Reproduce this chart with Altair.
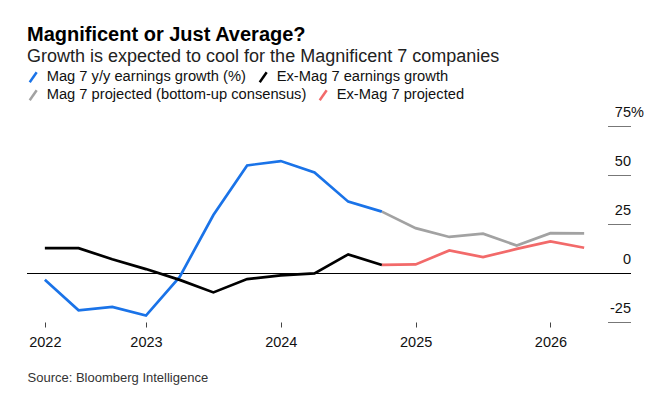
import altair as alt
import pandas as pd

# ---- data (quarter index 0 = first quarter shown) ----
actual_names = ["Mag 7 y/y earnings growth (%)", "Ex-Mag 7 earnings growth"]
actual_colors = ["#1a73e8", "#000000"]
projected_names = ["Mag 7 projected (bottom-up consensus)", "Ex-Mag 7 projected"]
projected_colors = ["#a2a2a2", "#f26a6a"]

mag7_actual = [-3.5, -19.0, -17.3, -21.7, -2.0, 29.6, 54.9, 57.1, 51.3, 36.4, 31.3]
exmag7_actual = [12.7, 12.7, 7.0, 2.0, -3.5, -9.9, -3.1, -1.2, -0.2, 9.5, 4.1]
mag7_projected = [31.3, 22.9, 18.4, 20.1, 14.0, 20.3, 20.2]
exmag7_projected = [4.1, 4.4, 11.5, 8.1, 12.3, 16.1, 12.9]
actual_start = 0
projected_start = 10

year_ticks = [0, 3, 7, 11, 15]
year_labels = ["2022", "2023", "2024", "2025", "2026"]

y_ticks = [75, 50, 25, 0, -25]
y_labels = ["75", "50", "25", "0", "-25"]


def long_table(names, start, series):
    rows = []
    for name, vals in zip(names, series):
        for i, v in enumerate(vals):
            rows.append({"series": name, "q": start + i, "value": v})
    return pd.DataFrame(rows)


df_actual = long_table(actual_names, actual_start, [mag7_actual, exmag7_actual])
df_proj = long_table(projected_names, projected_start, [mag7_projected, exmag7_projected])

FONT = "Liberation Sans"

label_expr = " : ".join(
    f"datum.value == {t} ? '{l}'" for t, l in zip(year_ticks, year_labels)
) + " : ''"

x_scale = alt.Scale(domain=[-0.53, 17.39], nice=False, zero=False)
y_scale = alt.Scale(domain=[-25, 75], nice=False, zero=False)

x_axis = alt.Axis(
    values=year_ticks,
    labelExpr=label_expr,
    grid=False,
    domain=False,
    ticks=True,
    tickSize=5,
    tickColor="#444",
    labelFontSize=14.5,
    labelFont=FONT,
    labelColor="#111",
    labelPadding=8,
    title="Source: Bloomberg Intelligence",
    titleAnchor="start",
    titleAlign="left",
    titleX=0,
    titleY=59,
    titleBaseline="alphabetic",
    titleFont=FONT,
    titleFontSize=13,
    titleFontWeight="normal",
    titleColor="#333",
)
x_enc = alt.X("q:Q", scale=x_scale, axis=x_axis)
y_enc = alt.Y("value:Q", scale=y_scale, axis=None)


def legend(y):
    return alt.Legend(
        orient="none",
        legendX=-1.3,
        legendY=y,
        direction="horizontal",
        title=None,
        symbolType="M-0.58,0.83L0.58,-0.83",
        symbolSize=144,
        symbolStrokeWidth=2.5,
        labelFontSize=14.7,
        labelFont=FONT,
        labelColor="#111",
        labelOffset=6,
        labelLimit=500,
        columnPadding=8,
    )


actual_lines = alt.Chart(df_actual).mark_line(strokeWidth=2.7, clip=False).encode(
    x=x_enc,
    y=y_enc,
    color=alt.Color(
        "series:N",
        scale=alt.Scale(domain=actual_names, range=actual_colors),
        legend=legend(-56.5),
    ),
    order="q:Q",
)

projected_lines = alt.Chart(df_proj).mark_line(strokeWidth=2.7, clip=False).encode(
    x=x_enc,
    y=y_enc,
    stroke=alt.Stroke(
        "series:N",
        scale=alt.Scale(domain=projected_names, range=projected_colors),
        legend=legend(-38.5),
    ),
    order="q:Q",
)

zero_df = pd.DataFrame({"v": [0]})
zero_rule = alt.Chart(zero_df).mark_rule(color="black", strokeWidth=1, yOffset=0.5).encode(
    y=alt.Y("v:Q", scale=y_scale, axis=None)
)

tick_df = pd.DataFrame({"v": [t for t in y_ticks if t != 0]})
tick_rules = alt.Chart(tick_df).mark_rule(color="#777", strokeWidth=1, yOffset=0.5).encode(
    y=alt.Y("v:Q", scale=y_scale, axis=None),
    x=alt.value(581),
    x2=alt.value(604),
)

lab_df = pd.DataFrame({"v": y_ticks, "t": y_labels})
tick_text = alt.Chart(lab_df).mark_text(
    align="right", baseline="alphabetic", dy=-9, fontSize=14.5, font=FONT, color="#111"
).encode(
    y=alt.Y("v:Q", scale=y_scale, axis=None),
    x=alt.value(604),
    text="t:N",
)

pct_df = pd.DataFrame({"v": [y_ticks[0]], "t": ["%"]})
pct_text = alt.Chart(pct_df).mark_text(
    align="left", baseline="alphabetic", dy=-9, fontSize=14.5, font=FONT, color="#111"
).encode(
    y=alt.Y("v:Q", scale=y_scale, axis=None),
    x=alt.value(604),
    text="t:N",
)

chart = alt.layer(
    zero_rule, tick_rules, tick_text, pct_text, actual_lines, projected_lines
).properties(
    width=604,
    height=196,
    autosize=alt.AutoSizeParams(type="none"),
    padding={"left": 19, "top": 118, "right": 18, "bottom": 65},
    title=alt.TitleParams(
        text="Magnificent or Just Average?",
        subtitle="Growth is expected to cool for the Magnificent 7 companies",
        anchor="start",
        frame="group",
        font=FONT,
        fontSize=20,
        fontWeight="bold",
        color="#000",
        subtitleFont=FONT,
        subtitleFontSize=18,
        subtitleColor="#222",
        subtitlePadding=3,
        offset=4,
    ),
).configure_view(stroke=None)

chart.save("out.html", embed_options={"renderer": "svg", "actions": False})
